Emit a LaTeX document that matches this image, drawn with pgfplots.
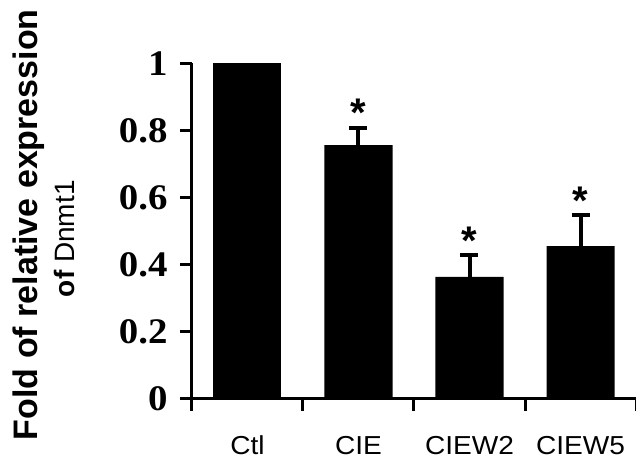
\documentclass[border=0pt]{standalone}
\usepackage{pgfplots}
\pgfplotsset{compat=1.18}
\usepackage{fontspec}
\setmainfont{Liberation Sans}
\newfontfamily\tickserif[FakeStretch=1.08]{Liberation Serif}
\newfontfamily\xlabfont[FakeStretch=1.08]{Liberation Sans}
\pgfplotstableread{
x y
0 1.000
}\ctldata
\pgfplotstableread{
x y e
1 0.757 0.051
2 0.364 0.065
3 0.456 0.092
}\bardata
\pgfplotstableread{
x y
1 0.808
2 0.429
3 0.548
}\stardata
\begin{document}
\begin{tikzpicture}
\begin{axis}[
  at={(0,0)}, anchor=south west,
  scale only axis,
  width=222pt, height=167.75pt,
  xmin=-0.5, xmax=3.5,
  ymin=0, ymax=1,
  axis x line=bottom, axis y line=left,
  axis line style={-, line width=1.5pt, black},
  tick style={black, line width=1.5pt},
  tick align=outside,
  major tick length=6pt,
  xtick={-0.5,0.5,1.5,2.5,3.5},
  xticklabels={},
  extra x ticks={0,1,2,3},
  extra x tick labels={Ctl,CIE,CIEW2,CIEW5},
  extra x tick style={major tick length=0pt},
  xticklabel style={font=\xlabfont\fontsize{13}{15}\selectfont, anchor=base, inner sep=0pt, yshift=-28pt},
  ytick={0,0.2,0.4,0.6,0.8,1},
  yticklabels={0,0.2,0.4,0.6,0.8,1},
  yticklabel style={font=\tickserif\bfseries\fontsize{18}{20}\selectfont, anchor=east, inner sep=0pt, xshift=-6pt},
  /pgf/number format/assume math mode=true,
  ylabel={\begin{tabular}{@{}c@{}}{\fontsize{17}{18.5}\selectfont\bfseries\hspace*{6.5pt}Fold of relative expression}\\[4.8pt]{\fontsize{14}{16}\selectfont\bfseries of \mdseries Dnmt1\hspace*{7.5pt}}\end{tabular}},
  ylabel style={at={(axis description cs:-0.2477,0.5)}, anchor=south, inner sep=0pt},
  clip=false,
]
\addplot[ybar, bar width=34pt, fill=black, draw=none] table[x=x, y=y] {\ctldata};
\addplot[ybar, bar width=34pt, fill=black, draw=none,
  error bars/.cd, y dir=plus, y explicit,
  error bar style={line width=2pt, black},
  error mark options={rotate=90, line width=2pt, mark size=4.5pt, black}]
  table[x=x, y=y, y error=e] {\bardata};
\addplot[draw=none, mark=none,
  nodes near coords={*},
  every node near coord/.style={anchor=base, inner sep=0pt, yshift=0.5pt, font=\bfseries\fontsize{20}{22}\selectfont}]
  table[x=x, y=y] {\stardata};
\end{axis}
\pgfresetboundingbox
\useasboundingbox (-96pt,-30pt) rectangle (222pt,199.5pt);
\end{tikzpicture}
\end{document}
